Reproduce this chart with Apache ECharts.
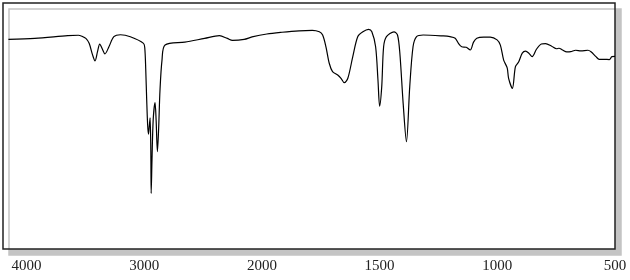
<!DOCTYPE html>
<html><head><meta charset="utf-8">
<script src="https://cdn.jsdelivr.net/npm/echarts@6/dist/echarts.min.js"></script>
<style>html,body{margin:0;padding:0;background:#fff}#c{width:630px;height:280px}</style>
</head><body><div id="c"></div>
<script>
// wavenumber (cm-1)
var wavenumbers = [4154,3930,3650,3560,3530,3496,3468,3439,3418,3397,3378,3355,3334,3300,3258,3202,3118,3006,2995,2987,2979,2971,2964,2956,2950,2944,2941,2934,2924,2908,2899,2888,2878,2866,2849,2823,2655,2487,2361,2294,2250,2151,2084,1979,1915,1842,1786,1756,1742,1728,1714,1700,1678,1664,1650,1635,1614,1593,1571,1547,1533,1517,1507,1500,1491,1483,1471,1439,1424,1414,1400,1386,1372,1358,1343,1315,1229,1201,1179,1165,1151,1132,1115,1101,1087,1058,1030,1001,987,973,958,952,936,923,909,894,880,866,852,833,813,795,769,748,738,723,705,688,667,645,615,602,581,567,546,524,513,500];
// transmittance (%)
var transmittance = [85.2,85.6,86.7,86.9,86.5,85.6,83.6,78.9,76.5,80.2,83.3,81.2,79.3,82.2,86.3,87.1,86.3,83.6,81.5,72.8,60.6,50.4,46.7,50.4,53.3,40.2,22.6,36.2,52.4,59.5,52.4,39.6,48.4,64.6,76.8,82.9,84.1,85.6,86.7,85.6,84.8,85.2,86.2,87.4,88.1,88.7,88.9,88.3,87.0,82.2,75.5,72.1,70.7,69.4,67.6,69.4,78.2,86.3,88.3,89.3,88.3,82.2,68.7,58.1,66.0,82.2,86.3,88.3,87.0,79.6,59.2,43.6,66.0,82.2,86.3,87.0,86.6,86.3,85.7,83.6,82.2,82.0,80.9,84.1,85.7,86.1,86.1,85.0,82.9,76.8,73.6,69.4,65.3,74.1,76.1,79.6,80.4,79.6,78.2,81.3,83.3,83.5,82.4,81.4,81.6,80.9,80.1,80.2,80.8,80.5,80.8,80.2,78.2,77.1,77.1,77.0,78.2,78.3];
var tickLabels = [4000,3000,2000,1500,1000,500];

// axis scale: above 2000 cm-1 compressed by factor 2
function toAxis(w){ return w > 2000 ? 2000 + (w - 2000) / 2 : w; }
function fromAxis(u){ return u > 2000 ? 2000 + (u - 2000) * 2 : u; }

var data = wavenumbers.map(function(w,i){ return [toAxis(w), transmittance[i]]; });

var chart = echarts.init(document.getElementById('c'), null, {renderer:'canvas'});
chart.setOption({
  animation:false,
  grid:{left:3,right:15,top:3,bottom:31,show:true,backgroundColor:'#fff',borderColor:'#222',borderWidth:1.5,
        shadowColor:'#c4c4c4',shadowBlur:0,shadowOffsetX:6,shadowOffsetY:6},
  xAxis:{type:'value',inverse:true,min:500,max:toAxis(4200),interval:500,
    axisLine:{show:false},axisTick:{show:false},splitLine:{show:false},
    axisLabel:{margin:10,fontFamily:'Liberation Serif',fontSize:15,color:'#222',showMaxLabel:false,
      formatter:function(u){ var w=Math.round(fromAxis(u)); return tickLabels.indexOf(w)>=0 ? String(w) : ''; }}},
  yAxis:{type:'value',min:0,max:100,show:false,splitLine:{show:false}},
  series:[{type:'line',data:data,showSymbol:false,smooth:0.3,lineStyle:{color:'#000',width:1.2}}]
});
</script></body></html>
